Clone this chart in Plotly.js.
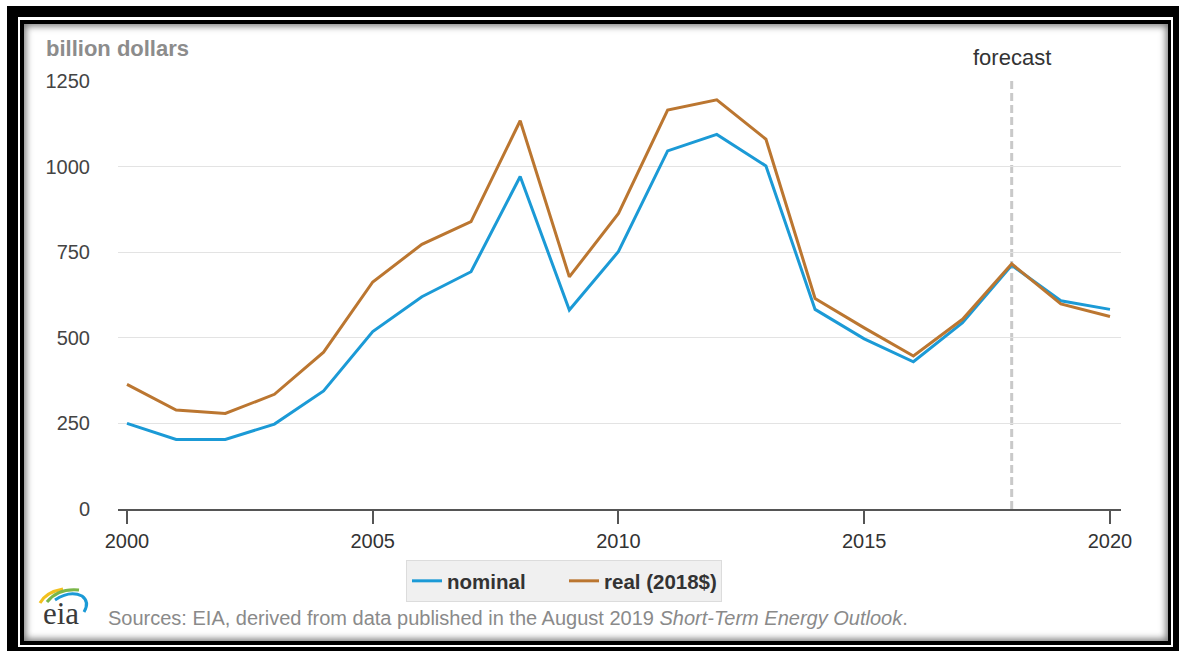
<!DOCTYPE html>
<html>
<head>
<meta charset="utf-8">
<script src="https://cdn.plot.ly/plotly-3.0.1.min.js"></script>
<style>
  html, body { margin:0; padding:0; background:#fff; width:1179px; height:652px; overflow:hidden; }
  .f1 { position:absolute; left:7px; top:6px; width:1172px; height:645px; background:#000; }
  .f2 { position:absolute; left:18px; top:17px; width:1155px; height:630px; background:#fff; }
  .f3 { position:absolute; left:20px; top:20px; width:1151px; height:625px; background:#000; }
  .f4 { position:absolute; left:24px; top:24px; width:1144px; height:617px; background:#fff; box-shadow: inset 0 0 7px 2px #777; }
  #chart { position:absolute; left:0; top:0; width:1179px; height:652px; }
</style>
</head>
<body>
<div class="f1"></div><div class="f2"></div><div class="f3"></div><div class="f4"></div>
<div id="chart"></div>
<script>
// ---- data ----
const years = [2000,2001,2002,2003,2004,2005,2006,2007,2008,2009,2010,2011,2012,2013,2014,2015,2016,2017,2018,2019,2020];
const nominal = [250,203,203,248,345,518,620,693,971,581,752,1046,1094,1002,583,497,430,544,712,608,583];
const real2018 = [364,289,279,335,458,663,773,839,1134,678,863,1165,1195,1080,615,529,447,554,716,599,562];
const seriesNames = ['nominal', 'real (2018$)'];
const yTicks = [0,250,500,750,1000,1250];
const xTicks = [2000,2005,2010,2015,2020];
const forecastYear = 2018;

// ---- layout helpers (pixel -> paper) ----
const L = 118, R = 1121, T = 81, B = 509;
const px = x => (x - L) / (R - L);
const py = y => (B - y) / (B - T);
function path(pts) {
  return pts.map(p => p[0] + p.slice(1).map((v,i) => (i%2===0 ? px(v) : py(v)).toFixed(5)).join(',')).join(' ');
}

const font = 'Liberation Sans, Arial, sans-serif';

const traces = [
  { x: years, y: nominal, name: seriesNames[0], type: 'scatter', mode: 'lines',
    line: { color: '#1b9ad6', width: 3 } },
  { x: years, y: real2018, name: seriesNames[1], type: 'scatter', mode: 'lines',
    line: { color: '#bb7630', width: 3 } }
];

const layout = {
  width: 1179, height: 652,
  paper_bgcolor: 'rgba(0,0,0,0)', plot_bgcolor: 'rgba(0,0,0,0)',
  margin: { l: L, r: 1179 - R, t: T, b: 652 - B },
  showlegend: true,
  font: { family: font },
  xaxis: {
    range: [1999.817, 2020.224], tickvals: xTicks, ticktext: xTicks.map(String),
    showgrid: false, zeroline: false, showline: true, linecolor: '#555', linewidth: 2,
    ticks: 'outside', ticklen: 13, tickwidth: 2, tickcolor: '#555',
    tickfont: { size: 20, color: '#333', family: font }
  },
  yaxis: {
    range: [0, 1250], tickvals: yTicks, ticktext: yTicks.map(String),
    showgrid: true, gridcolor: '#e3e3e3', gridwidth: 1, zeroline: false, showline: false,
    ticks: '', ticklabelstandoff: 27,
    tickfont: { size: 20, color: '#444', family: font }
  },
  legend: {
    orientation: 'h', x: px(406), y: py(560), xanchor: 'left', yanchor: 'top',
    bgcolor: '#f0f0f0', bordercolor: '#dcdcdc', borderwidth: 1,
    font: { size: 20.5, color: '#333', family: font, weight: 'bold' },
    entrywidth: 112
  },
  shapes: [
    { type: 'line', xref: 'x', yref: 'paper', x0: forecastYear, x1: forecastYear, y0: 0, y1: 1,
      line: { color: '#c9c9c9', width: 3, dash: '8px,4px' }, layer: 'below' },
    { type: 'path', xref: 'paper', yref: 'paper', path: path([['M',40,603],['Q',46,592,63,589]]),
      line: { color: '#f2c01e', width: 3 } },
    { type: 'path', xref: 'paper', yref: 'paper', path: path([['M',47,602],['Q',58,588,79,590]]),
      line: { color: '#7ab648', width: 3 } },
    { type: 'path', xref: 'paper', yref: 'paper', path: path([['M',55,600],['Q',70,590,82,596],['Q',90,602,84,612]]),
      line: { color: '#1b9ad6', width: 3 } }
  ],
  annotations: [
    { text: 'billion dollars', xref: 'paper', yref: 'paper', x: px(44), y: py(48),
      xanchor: 'left', yanchor: 'middle', showarrow: false,
      font: { size: 22, color: '#8c8c8c', family: font, weight: 'bold' } },
    { text: 'forecast', xref: 'x', yref: 'paper', x: forecastYear, y: py(57),
      xanchor: 'center', yanchor: 'middle', showarrow: false,
      font: { size: 22, color: '#333', family: font } },
    { text: 'Sources: EIA, derived from data published in the August 2019 <i>Short-Term Energy Outlook</i>.',
      xref: 'paper', yref: 'paper', x: px(106), y: py(618), xanchor: 'left', yanchor: 'middle', showarrow: false,
      font: { size: 20, color: '#8a8a8a', family: font } },
    { text: 'eia', xref: 'paper', yref: 'paper', x: px(61), y: py(613), xanchor: 'center', yanchor: 'middle', showarrow: false,
      font: { size: 31, color: '#3a3a3a', family: 'Liberation Serif, DejaVu Serif, serif' } }
  ]
};

Plotly.newPlot('chart', traces, layout, { displayModeBar: false, staticPlot: true });
</script>
</body>
</html>
